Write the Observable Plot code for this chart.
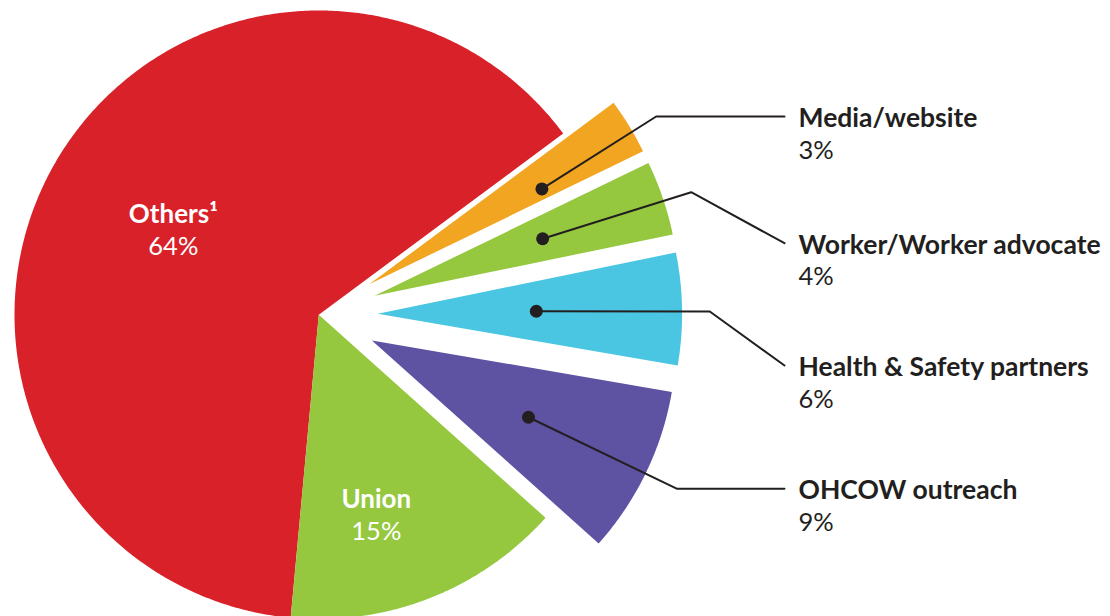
<!DOCTYPE html>
<html><head><meta charset="utf-8">
<script src="https://cdn.jsdelivr.net/npm/d3@7"></script>
<script src="https://cdn.jsdelivr.net/npm/@observablehq/plot@0.6"></script>
<style>html,body{margin:0;padding:0;background:#fff;overflow:hidden} #chart svg{display:block}</style>
</head><body><div id="chart"></div>
<script>
// ---- data ----
const categories = ["Others¹", "Media/website", "Worker/Worker advocate", "Health & Safety partners", "OHCOW outreach", "Union"];
const values = [64, 3, 4, 6, 9, 15];
const percentLabels = ["64%", "3%", "4%", "6%", "9%", "15%"];

// ---- style / layout ----
const sliceColors = ["#d92129", "#f2a520", "#95c83f", "#4ac6e2", "#5e52a2", "#95c83f"];
const exploded = [false, true, true, true, true, false];
const W = 1110, H = 616;
const cx = 318.3, cy = 314.3, R = 304.3, explodeDist = 59;
const startDeg = 185.3;
const innerLabels = {0: {t: 0.5125, r: 0.565}, 5: {t: 0.59, r: 0.661}};
const callouts = {
  1: {t: 0.72, r: 0.648, elbow: [655.7, 116], end: [784, 116]},
  2: {t: 0.5, r: 0.583, elbow: [690.7, 191.7], end: [784, 242.7]},
  3: {t: 0.5, r: 0.521, elbow: [709.3, 311], end: [784, 365]},
  4: {t: 0.51, r: 0.573, elbow: [676.7, 488.3], end: [784, 488.3]}
};
const labelX = 798;
const ink = "#231f20";
const font = "Lato, 'Noto Sans', sans-serif";

const arcs = d3.pie().sort(null).value(d => d)
  .startAngle(startDeg * Math.PI / 180)
  .endAngle(startDeg * Math.PI / 180 + 2 * Math.PI)(values);

const slices = arcs.map((a, i) => {
  const mid = (a.startAngle + a.endAngle) / 2;
  const off = exploded[i] ? explodeDist : 0;
  const ox = cx + off * Math.sin(mid), oy = cy - off * Math.cos(mid);
  const pts = [{x: ox, y: oy}];
  const n = Math.max(8, Math.ceil((a.endAngle - a.startAngle) / (Math.PI / 360)));
  for (let k = 0; k <= n; k++) {
    const ang = a.startAngle + (a.endAngle - a.startAngle) * k / n;
    pts.push({x: ox + R * Math.sin(ang), y: oy - R * Math.cos(ang)});
  }
  pts.push({x: ox, y: oy});
  const polar = (t, r) => {
    const ang = a.startAngle + t * (a.endAngle - a.startAngle);
    return [ox + r * R * Math.sin(ang), oy - r * R * Math.cos(ang)];
  };
  return {i, name: categories[i], pct: percentLabels[i], color: sliceColors[i], pts, polar};
});

const inner = slices.filter(s => innerLabels[s.i]).map(s => {
  const L = innerLabels[s.i];
  const [x, y] = s.polar(L.t, L.r);
  return {x, y, name: s.name, pct: s.pct};
});

const calls = slices.filter(s => callouts[s.i]).map(s => {
  const C = callouts[s.i];
  const [dx, dy] = s.polar(C.t, C.r);
  return {name: s.name, pct: s.pct, dot: {x: dx, y: dy},
    path: [{x: dx, y: dy}, {x: C.elbow[0], y: C.elbow[1]}, {x: C.end[0], y: C.end[1]}],
    ly: C.end[1]};
});

const marks = [];
slices.forEach(s => marks.push(Plot.line(s.pts, {x: "x", y: "y", fill: s.color, stroke: "none", curve: "linear"})));
calls.forEach(c => marks.push(Plot.line(c.path, {x: "x", y: "y", stroke: ink, strokeWidth: 2, curve: "linear"})));
marks.push(Plot.dot(calls.map(c => c.dot), {x: "x", y: "y", r: 6.5, fill: ink, stroke: "none"}));
marks.push(Plot.text(inner, {x: "x", y: "y", text: "name", fill: "white", fontSize: 26, fontWeight: "bold", fontFamily: font, textAnchor: "middle", lineAnchor: "bottom"}));
marks.push(Plot.text(inner, {x: "x", y: d => d.y + 32, text: "pct", fill: "white", fontSize: 25.5, fontFamily: font, textAnchor: "middle", lineAnchor: "bottom"}));
marks.push(Plot.text(calls, {x: () => labelX, y: d => d.ly + 10.5, text: "name", fill: ink, fontSize: 26.5, fontWeight: "bold", fontFamily: font, textAnchor: "start", lineAnchor: "bottom"}));
marks.push(Plot.text(calls, {x: () => labelX, y: d => d.ly + 42, text: "pct", fill: ink, fontSize: 25.5, fontFamily: font, textAnchor: "start", lineAnchor: "bottom"}));

const chart = Plot.plot({
  width: W, height: H, margin: 0,
  x: {domain: [0, W], range: [0, W], axis: null},
  y: {domain: [0, H], range: [0, H], axis: null},
  style: {background: "white", overflow: "hidden"},
  marks
});
document.getElementById("chart").append(chart);
</script></body></html>
